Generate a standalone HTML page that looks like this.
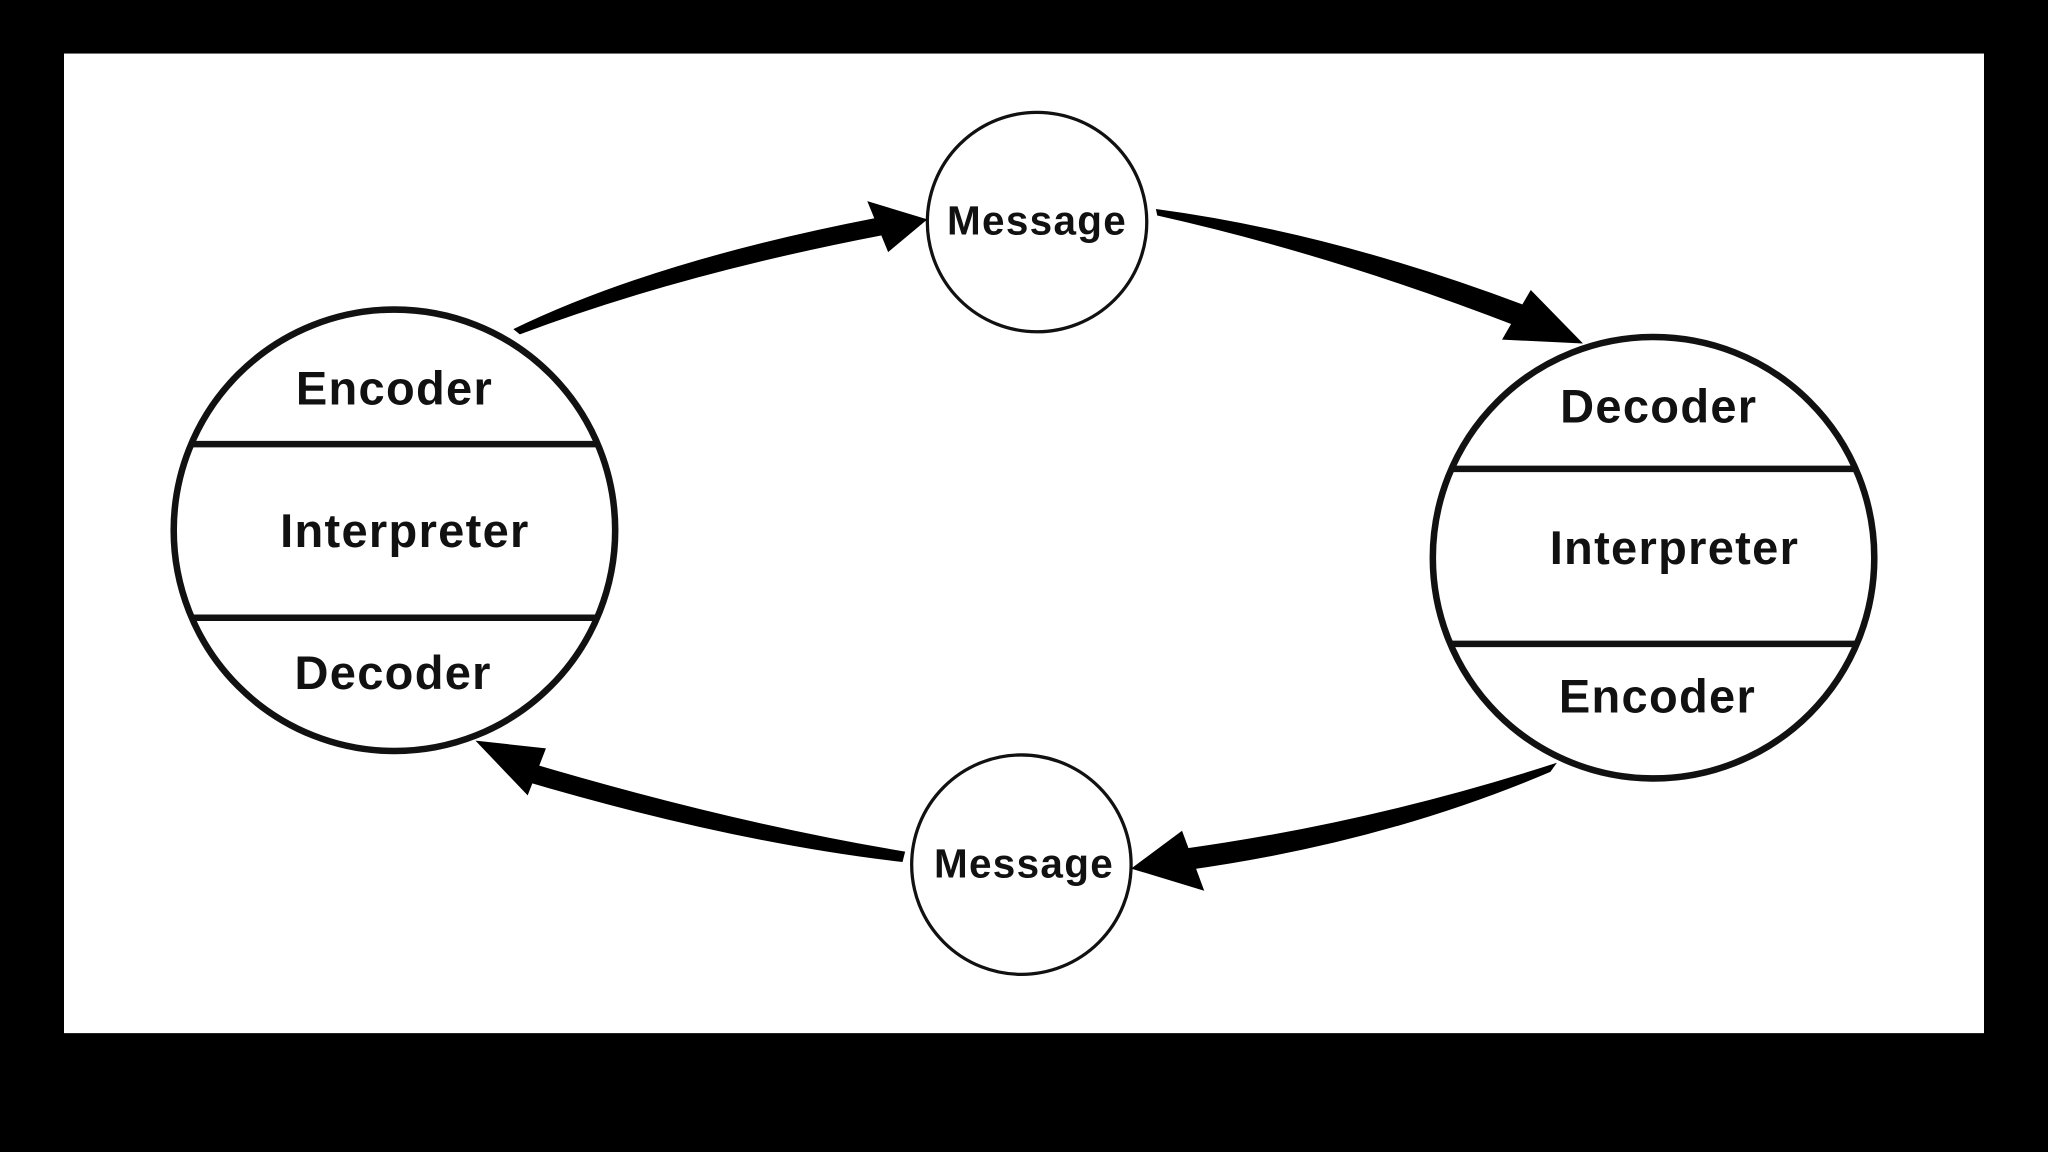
<!DOCTYPE html>
<html><head><meta charset="utf-8"><style>
html,body{margin:0;padding:0;background:#000;}
svg{display:block;}
text{font-family:"Liberation Sans",sans-serif;font-weight:bold;fill:#111;text-anchor:middle;dominant-baseline:central;letter-spacing:1px;}
</style></head><body>
<svg width="2048" height="1152" viewBox="0 0 1568 882" preserveAspectRatio="none">
<rect x="0" y="0" width="1568" height="882" fill="#000"/>
<rect x="49" y="41" width="1470" height="750" fill="#fff"/>
<!-- left circle -->
<circle cx="302" cy="406" r="169" fill="#fff" stroke="#111" stroke-width="5"/>
<line x1="147" y1="340" x2="457" y2="340" stroke="#111" stroke-width="5"/>
<line x1="147" y1="473" x2="457" y2="473" stroke="#111" stroke-width="5"/>
<text x="302" y="297" font-size="36">Encoder</text>
<text x="310" y="406" font-size="36">Interpreter</text>
<text x="301" y="515" font-size="36">Decoder</text>
<!-- right circle -->
<circle cx="1266" cy="427" r="169" fill="#fff" stroke="#111" stroke-width="5"/>
<line x1="1111" y1="359" x2="1421" y2="359" stroke="#111" stroke-width="5"/>
<line x1="1111" y1="493" x2="1421" y2="493" stroke="#111" stroke-width="5"/>
<text x="1270" y="311" font-size="36">Decoder</text>
<text x="1282" y="419" font-size="36">Interpreter</text>
<text x="1269" y="533" font-size="36">Encoder</text>
<!-- messages -->
<circle cx="794" cy="170" r="84" fill="#fff" stroke="#111" stroke-width="2.5"/>
<text x="794" y="169" font-size="31">Message</text>
<circle cx="782" cy="662" r="84" fill="#fff" stroke="#111" stroke-width="2.5"/>
<text x="784" y="661" font-size="31">Message</text>
<!-- arrows -->
<g fill="#000">
<path d="M393,252 Q500,200 670,167 L676,180 Q520,210 398,256 Z"/>
<path d="M710,168 L664,154 L680,193 Z"/>
<path d="M885,160 Q1020,178 1168,234 L1162,250 Q1020,195 886,165 Z"/>
<path d="M1212,263 L1172,222 L1150,260 Z"/>
<path d="M1192,584 Q1050,630 905,650 L910,666 Q1060,645 1187,591 Z"/>
<path d="M866,665 L905,636 L922,682 Z"/>
<path d="M693,652 Q560,630 402,583 L398,597 Q560,645 691,660 Z"/>
<path d="M364,567 L418,573 L404,609 Z"/>
</g>
</svg>
</body></html>
